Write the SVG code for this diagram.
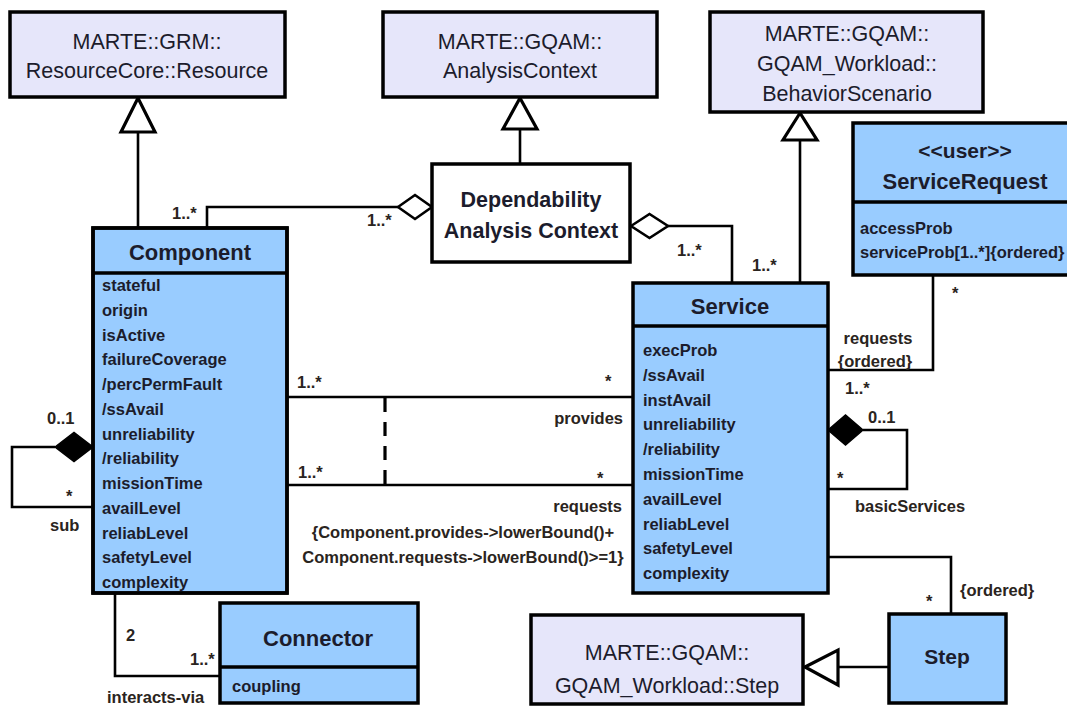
<svg xmlns="http://www.w3.org/2000/svg" width="1067" height="708" viewBox="0 0 1067 708">
  <style>
    .ext { fill: #E6E6FA; stroke: #000; stroke-width: 3.5; }
    .cls { fill: #99CCFF; stroke: #000; stroke-width: 3.5; }
    .ctx { fill: #FFFFFF; stroke: #000; stroke-width: 3.5; }
    .sep { stroke: #000; stroke-width: 3.5; }
    .ln { fill: none; stroke: #000; stroke-width: 2.6; }
    .dash { fill: none; stroke: #000; stroke-width: 3.2; stroke-dasharray: 14 10; }
    .tri { fill: #FFFFFF; stroke: #000; stroke-width: 3.2; }
    .agg { fill: #FFFFFF; stroke: #000; stroke-width: 2.6; }
    .comp { fill: #000; stroke: #000; stroke-width: 1.5; }
    .ref { font-family: "Liberation Sans", Arial, sans-serif; font-size: 21.5px; fill: #1c1c2c; text-anchor: middle; }
    .title { font-family: "Liberation Sans", Arial, sans-serif; font-size: 22px; font-weight: bold; fill: #1c1c2c; text-anchor: middle; }
    .attr { font-family: "Liberation Sans", Arial, sans-serif; font-size: 16.5px; font-weight: bold; fill: #1c1c2c; }
    .lbl { font-family: "Liberation Sans", Arial, sans-serif; font-size: 16.5px; font-weight: bold; fill: #2a2420; }
  </style>

  <!-- connectors -->
  <g id="connectors">
    <!-- generalizations -->
    <line class="ln" x1="138" y1="130" x2="138" y2="228"/>
    <polygon class="tri" points="138,98 121,132 155,132"/>
    <line class="ln" x1="520" y1="128" x2="520" y2="164"/>
    <polygon class="tri" points="520,98 503,129 537,129"/>
    <line class="ln" x1="800" y1="138" x2="800" y2="283"/>
    <polygon class="tri" points="800,113 783,140 817,140"/>
    <line class="ln" x1="889" y1="667" x2="836" y2="667"/>
    <polygon class="tri" points="805,667 838,650 838,685"/>

    <!-- Component to Dependability Analysis Context -->
    <polyline class="ln" points="207,228 207,207 398,207"/>
    <polygon class="agg" points="398,207 415,195 432,207 415,219"/>
    <text class="lbl" x="172" y="219">1..*</text>
    <text class="lbl" x="367" y="226">1..*</text>

    <!-- Service to Dependability Analysis Context -->
    <polyline class="ln" points="668,226 732,226 732,283"/>
    <polygon class="agg" points="631,226 649.5,214 668,226 649.5,238"/>
    <text class="lbl" x="677" y="256">1..*</text>
    <text class="lbl" x="752" y="271">1..*</text>

    <!-- provides / requests -->
    <line class="ln" x1="287" y1="397" x2="633" y2="397"/>
    <line class="ln" x1="287" y1="485" x2="633" y2="485"/>
    <line class="dash" x1="385" y1="398" x2="385" y2="484"/>
    <text class="lbl" x="297" y="388">1..*</text>
    <text class="lbl" x="605" y="387">*</text>
    <text class="lbl" x="623" y="424" text-anchor="end">provides</text>
    <text class="lbl" x="298" y="478">1..*</text>
    <text class="lbl" x="597" y="484">*</text>
    <text class="lbl" x="622" y="512" text-anchor="end">requests</text>
    <text class="lbl" x="463" y="538" text-anchor="middle">{Component.provides-&gt;lowerBound()+</text>
    <text class="lbl" x="463" y="563" text-anchor="middle">Component.requests-&gt;lowerBound()&gt;=1}</text>

    <!-- Component sub composition -->
    <polyline class="ln" points="55,447 12,447 12,507 93,507"/>
    <polygon class="comp" points="55,447 74,432.5 93,447 74,461.5"/>
    <text class="lbl" x="47" y="424">0..1</text>
    <text class="lbl" x="66" y="502">*</text>
    <text class="lbl" x="50" y="531">sub</text>

    <!-- Component interacts-via Connector -->
    <polyline class="ln" points="115,593 115,676 220,676"/>
    <text class="lbl" x="126" y="641">2</text>
    <text class="lbl" x="190" y="665">1..*</text>
    <text class="lbl" x="107" y="703">interacts-via</text>

    <!-- ServiceRequest requests Service -->
    <polyline class="ln" points="828,370 933,370 933,275"/>
    <text class="lbl" x="952" y="299">*</text>
    <text class="lbl" x="878" y="344" text-anchor="middle">requests</text>
    <text class="lbl" x="875" y="367" text-anchor="middle">{ordered}</text>
    <text class="lbl" x="845" y="394">1..*</text>

    <!-- Service basicServices composition -->
    <polyline class="ln" points="863,430 907,430 907,489 828,489"/>
    <polygon class="comp" points="828,430 845.5,415 863,430 845.5,445"/>
    <text class="lbl" x="868" y="423">0..1</text>
    <text class="lbl" x="837" y="484">*</text>
    <text class="lbl" x="855" y="512">basicServices</text>

    <!-- Service to Step -->
    <polyline class="ln" points="828,557 951,557 951,614"/>
    <text class="lbl" x="926" y="607">*</text>
    <text class="lbl" x="960" y="596">{ordered}</text>
  </g>

  <!-- MARTE::GRM::ResourceCore::Resource -->
  <g id="resource">
    <rect class="ext" x="10" y="12" width="275" height="85"/>
    <text class="ref" x="147" y="49">MARTE::GRM::</text>
    <text class="ref" x="147" y="78">ResourceCore::Resource</text>
  </g>

  <!-- MARTE::GQAM::AnalysisContext -->
  <g id="analysis-context">
    <rect class="ext" x="383" y="12" width="274" height="85"/>
    <text class="ref" x="520" y="49">MARTE::GQAM::</text>
    <text class="ref" x="520" y="78">AnalysisContext</text>
  </g>

  <!-- MARTE::GQAM::GQAM_Workload::BehaviorScenario -->
  <g id="behavior-scenario">
    <rect class="ext" x="710" y="12" width="273" height="100"/>
    <text class="ref" x="847" y="41">MARTE::GQAM::</text>
    <text class="ref" x="847" y="71">GQAM_Workload::</text>
    <text class="ref" x="847" y="101">BehaviorScenario</text>
  </g>

  <!-- Dependability Analysis Context -->
  <g id="dependability-context">
    <rect class="ctx" x="432" y="164" width="198" height="98"/>
    <text class="title" x="531" y="207" style="font-size:21.5px">Dependability</text>
    <text class="title" x="531" y="238" style="font-size:21.5px">Analysis Context</text>
  </g>

  <!-- <<user>> ServiceRequest -->
  <g id="service-request">
    <rect class="cls" x="853" y="123" width="224" height="152"/>
    <line class="sep" x1="853" y1="202" x2="1077" y2="202"/>
    <text class="title" x="965" y="158" style="font-size:21px">&lt;&lt;user&gt;&gt;</text>
    <text class="title" x="965" y="189">ServiceRequest</text>
    <text class="attr" x="860" y="234">accessProb</text>
    <text class="attr" x="860" y="258">serviceProb[1..*]{ordered}</text>
  </g>

  <!-- Component -->
  <g id="component">
    <rect class="cls" x="93" y="228" width="194" height="365"/>
    <line class="sep" x1="93" y1="273" x2="287" y2="273"/>
    <text class="title" x="190" y="260">Component</text>
    <text class="attr" x="102" y="291">stateful</text>
    <text class="attr" x="102" y="315.75">origin</text>
    <text class="attr" x="102" y="340.5">isActive</text>
    <text class="attr" x="102" y="365.25">failureCoverage</text>
    <text class="attr" x="102" y="390">/percPermFault</text>
    <text class="attr" x="102" y="414.75">/ssAvail</text>
    <text class="attr" x="102" y="439.5">unreliability</text>
    <text class="attr" x="102" y="464.25">/reliability</text>
    <text class="attr" x="102" y="489">missionTime</text>
    <text class="attr" x="102" y="513.75">availLevel</text>
    <text class="attr" x="102" y="538.5">reliabLevel</text>
    <text class="attr" x="102" y="563.25">safetyLevel</text>
    <text class="attr" x="102" y="588">complexity</text>
    <rect x="93" y="228" width="194" height="365" fill="none" stroke="#000" stroke-width="3.5"/>
  </g>

  <!-- Service -->
  <g id="service">
    <rect class="cls" x="633" y="283" width="195" height="310"/>
    <line class="sep" x1="633" y1="326" x2="828" y2="326"/>
    <text class="title" x="730" y="314">Service</text>
    <text class="attr" x="643" y="356">execProb</text>
    <text class="attr" x="643" y="380.8">/ssAvail</text>
    <text class="attr" x="643" y="405.6">instAvail</text>
    <text class="attr" x="643" y="430.4">unreliability</text>
    <text class="attr" x="643" y="455.2">/reliability</text>
    <text class="attr" x="643" y="480">missionTime</text>
    <text class="attr" x="643" y="504.8">availLevel</text>
    <text class="attr" x="643" y="529.6">reliabLevel</text>
    <text class="attr" x="643" y="554.4">safetyLevel</text>
    <text class="attr" x="643" y="579.2">complexity</text>
  </g>

  <!-- Connector -->
  <g id="connector">
    <rect class="cls" x="220" y="603" width="198" height="100"/>
    <line class="sep" x1="220" y1="667" x2="418" y2="667"/>
    <text class="title" x="318" y="646">Connector</text>
    <text class="attr" x="232" y="692">coupling</text>
  </g>

  <!-- MARTE::GQAM::GQAM_Workload::Step -->
  <g id="marte-step">
    <rect class="ext" x="531" y="615" width="272" height="89"/>
    <text class="ref" x="667" y="660">MARTE::GQAM::</text>
    <text class="ref" x="667" y="693">GQAM_Workload::Step</text>
  </g>

  <!-- Step -->
  <g id="step">
    <rect class="cls" x="889" y="614" width="117" height="89"/>
    <text class="title" x="947" y="664" style="font-size:21px">Step</text>
  </g>
</svg>
